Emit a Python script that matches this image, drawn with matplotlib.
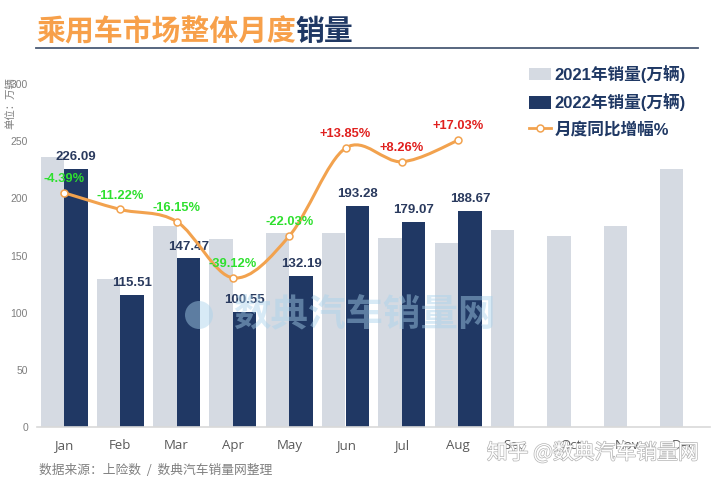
import matplotlib
matplotlib.use('Agg')
import matplotlib.pyplot as plt
import numpy as np
from matplotlib.path import Path
from matplotlib.patches import PathPatch, Patch, Ellipse
from matplotlib.lines import Line2D
import matplotlib.patheffects as pe

plt.rcParams['font.family'] = ['Liberation Sans', 'Noto Sans CJK SC', 'DejaVu Sans']

# ---------------- data ----------------
months = ['Jan', 'Feb', 'Mar', 'Apr', 'May', 'Jun', 'Jul', 'Aug', 'Sep', 'Oct', 'Nov', 'Dec']
sales_2021 = [236.5, 129.5, 175.8, 164.5, 169.5, 169.7, 165.4, 161.0, 172.0, 167.4, 175.8, 226.0]
sales_2022 = [226.09, 115.51, 147.47, 100.55, 132.19, 193.28, 179.07, 188.67]
growth_pct = [-4.39, -11.22, -16.15, -39.12, -22.03, 13.85, 8.26, 17.03]
y_ticks = [0, 50, 100, 150, 200, 250, 300]

title_main = '乘用车市场整体月度'
title_tail = '销量'
legend_labels = ['2021年销量(万辆)', '2022年销量(万辆)', '月度同比增幅%']
unit_label = '单位：万辆'
source_text = '数据来源：上险数  /  数典汽车销量网整理'

# ---------------- style ----------------
C_2021 = '#D5DAE2'
C_2022 = '#203864'
C_LINE = '#F2A24E'
C_ORANGE = '#F7A04A'
C_NAVY = '#1F3864'
C_LABEL = '#2A3A5E'
C_GREEN = '#2EE02E'
C_RED = '#E0201E'
C_TICK = '#595959'

W, H = 720, 483
fig = plt.figure(figsize=(W / 100, H / 100), dpi=100)
fig.patch.set_facecolor('white')

ax = fig.add_axes([37 / W, 1 - 427 / H, (710 - 37) / W, (427 - 84) / H])
x_all = np.arange(len(months))
x22 = np.arange(len(sales_2022))
off, bw = 0.21, 0.415

ax.bar(x_all - off, sales_2021, width=bw, color=C_2021, zorder=2)
ax.bar(x22 + off, sales_2022, width=bw, color=C_2022, zorder=2)

ax.set_xlim(-0.48, 11.47)
ax.set_ylim(0, 300)
ax.set_yticks(y_ticks)
ax.set_xticks(x_all)
ax.set_xticklabels(months, family=['Open Sans', 'DejaVu Sans'], fontsize=9.5, color=C_TICK)
ax.tick_params(axis='x', length=0, pad=8.5)
ax.tick_params(axis='y', length=0, pad=6.5, labelsize=7.5, labelcolor='#7F7F7F')
for s in ['top', 'right', 'left']:
    ax.spines[s].set_visible(False)
ax.spines['bottom'].set_color('#D9D9D9')
ax.spines['bottom'].set_linewidth(1.2)

for xi, v in zip(x22, sales_2022):
    ax.annotate(f'{v:.2f}', (xi + off, v), xytext=(0, 8.5), textcoords='offset points',
                ha='center', va='center', fontsize=9.5, fontweight='bold', color=C_LABEL,
                zorder=5, annotation_clip=False)

# growth line on hidden secondary axis
ax2 = ax.twinx()
ax2.set_ylim(-100, 40)
ax2.set_axis_off()

P = np.column_stack([x22, growth_pct]).astype(float)
n = len(P)
verts = [tuple(P[0])]
codes = [Path.MOVETO]
for i in range(n - 1):
    p0 = P[max(i - 1, 0)]
    p1 = P[i]
    p2 = P[i + 1]
    p3 = P[min(i + 2, n - 1)]
    c1 = p1 + (p2 - p0) / 6.0
    c2 = p2 - (p3 - p1) / 6.0
    verts += [tuple(c1), tuple(c2), tuple(p2)]
    codes += [Path.CURVE4] * 3
ax2.add_patch(PathPatch(Path(verts, codes), fill=False, edgecolor=C_LINE, lw=2.2,
                        capstyle='round', zorder=3))
ax2.plot(x22, growth_pct, linestyle='none', marker='o', ms=5, mfc='white',
         mec=C_LINE, mew=1.1, zorder=4)

for xi, g in zip(x22, growth_pct):
    txt = f'{g:+.2f}%'
    ax2.annotate(txt, (xi, g), xytext=(0, 10), textcoords='offset points',
                 ha='center', va='center', fontsize=9.3, fontweight='bold',
                 color=C_GREEN if g < 0 else C_RED, zorder=6, annotation_clip=False)

# unit label
fig.text(10 / W, 1 - 103 / H, unit_label, rotation=90, ha='center', va='center',
         fontsize=7.5, color='#7F7F7F', family=['Noto Sans CJK SC'])

# title
t1 = fig.text(36 / W, 1 - 31 / H, title_main, ha='left', va='center', fontsize=20.8,
              fontweight='bold', color=C_ORANGE, family=['Noto Sans CJK SC'])
ax.annotate(title_tail, xy=(1, 0.5), xycoords=t1, ha='left', va='center', fontsize=20.8,
            fontweight='bold', color=C_NAVY, family=['Noto Sans CJK SC'], annotation_clip=False)
fig.add_artist(Line2D([36 / W, 698 / W], [1 - 48 / H, 1 - 48 / H], transform=fig.transFigure,
                      color='#4A5A75', lw=1.3))

# legend
handles = [Patch(facecolor=C_2021, edgecolor='none'),
           Patch(facecolor=C_2022, edgecolor='none'),
           Line2D([0], [0], color=C_LINE, lw=2, marker='o', ms=5, mfc='white', mec=C_LINE, mew=1.1)]
fig.legend(handles, legend_labels, loc='upper left', bbox_to_anchor=(529 / W, 1 - 65 / H),
           frameon=False, handlelength=1.3, handleheight=0.75, handletextpad=0.22,
           labelspacing=0.62, borderpad=0, borderaxespad=0, labelcolor=C_NAVY,
           prop={'size': 12, 'weight': 'bold', 'family': ['Liberation Sans', 'Noto Sans CJK SC']})

# watermark (center)
fig.add_artist(Ellipse((199 / W, 1 - 315 / H), 28 / W, 28 / H, transform=fig.transFigure,
                       facecolor='#A8D2EC', alpha=0.45, edgecolor='none', zorder=6))
fig.text(364 / W, 1 - 315 / H, '数典汽车销量网', ha='center', va='center', fontsize=27,
         fontweight='bold', color='#A8D2EC', alpha=0.45, family=['Noto Sans CJK SC'], zorder=6)

# source
fig.text(39 / W, 1 - 470 / H, source_text, ha='left', va='center', fontsize=9.2,
         color='#808080', family=['Noto Sans CJK SC'])

# bottom-right watermark
fig.text(593 / W, 1 - 453 / H, '知乎 @数典汽车销量网', ha='center', va='center', fontsize=15,
         color='white', family=['Noto Sans CJK SC'], zorder=7,
         path_effects=[pe.withStroke(linewidth=1.0, foreground='#B4B4B4')])

fig.savefig('out.png', dpi=100)
